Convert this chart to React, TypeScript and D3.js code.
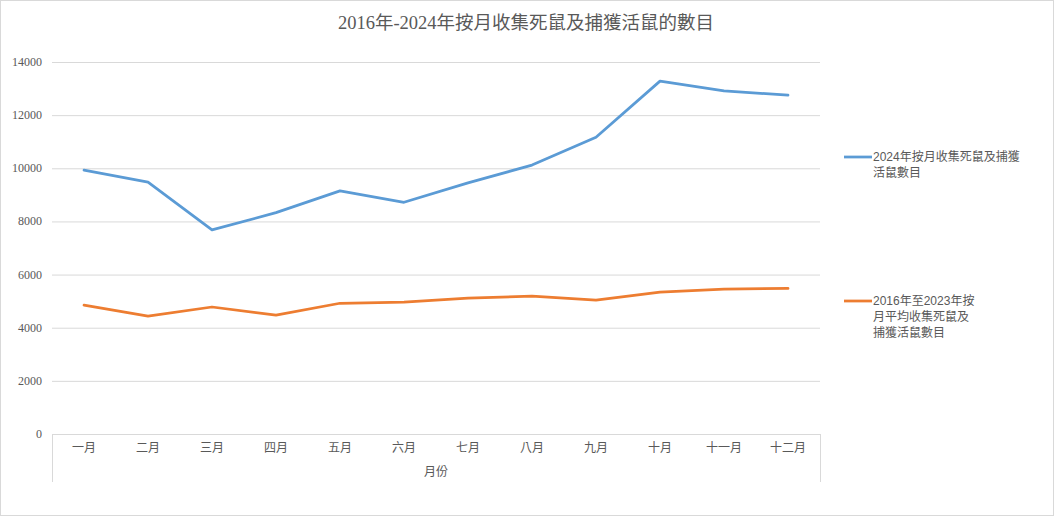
import React from "react";
import * as d3 from "d3";

const months = ["一月", "二月", "三月", "四月", "五月", "六月", "七月", "八月", "九月", "十月", "十一月", "十二月"];
const series2024 = [9930, 9480, 7680, 8330, 9150, 8720, 9450, 10120, 11170, 13280, 12910, 12750];
const seriesAvg = [4850, 4440, 4780, 4470, 4920, 4960, 5110, 5190, 5040, 5340, 5450, 5480];
const yTicks = [0, 2000, 4000, 6000, 8000, 10000, 12000, 14000];
const legend2024 = ["2024年按月收集死鼠及捕獲", "活鼠數目"];
const legendAvg = ["2016年至2023年按", "月平均收集死鼠及", "捕獲活鼠數目"];
const title = "2016年-2024年按月收集死鼠及捕獲活鼠的數目";
const xTitle = "月份";

const W = 1054, H = 516;
const left = 52, right = 820, top = 62, bottom = 434;
const font = "'Liberation Serif', 'Noto Sans CJK TC', serif";
const cjk = "'Liberation Sans', 'Noto Sans CJK TC', sans-serif";

export default function App() {
  const x = d3.scaleBand<string>().domain(months).range([left, right]);
  const y = d3.scaleLinear().domain([0, 14000]).range([bottom, top]);
  const line = d3.line<number>().x((_, i) => (x(months[i]) as number) + x.bandwidth() / 2).y((d) => y(d));
  return (
    <div style={{ position: "absolute", left: 0, top: 0 }}>
      <svg width={W} height={H} style={{ display: "block" }}>
        <rect x={0.5} y={0.5} width={W - 1} height={H - 1} fill="#fff" stroke="#d9d9d9" />
        <text x={526} y={29} textAnchor="middle" fontSize={18.5} fill="#595959" fontFamily={font}>{title}</text>
        {yTicks.map((t) => (
          <g key={t}>
            <line x1={left} x2={right} y1={y(t) + 0.5} y2={y(t) + 0.5} stroke="#d9d9d9" strokeWidth={1} />
            <text x={42} y={y(t) + 4} textAnchor="end" fontSize={12} fill="#595959" fontFamily={font}>{t}</text>
          </g>
        ))}
        <line x1={left + 0.5} x2={left + 0.5} y1={bottom} y2={482} stroke="#d9d9d9" />
        <line x1={right + 0.5} x2={right + 0.5} y1={bottom} y2={482} stroke="#d9d9d9" />
        {months.map((m) => (
          <text key={m} x={(x(m) as number) + x.bandwidth() / 2} y={452} textAnchor="middle" fontSize={12} fill="#595959" fontFamily={cjk}>{m}</text>
        ))}
        <text x={(left + right) / 2} y={476} textAnchor="middle" fontSize={12} fill="#595959" fontFamily={cjk}>{xTitle}</text>
        <path d={line(seriesAvg) as string} fill="none" stroke="#ed7d31" strokeWidth={2.75} strokeLinejoin="round" strokeLinecap="round" />
        <path d={line(series2024) as string} fill="none" stroke="#5b9bd5" strokeWidth={2.75} strokeLinejoin="round" strokeLinecap="round" />
        <line x1={844} x2={872} y1={157} y2={157} stroke="#5b9bd5" strokeWidth={2.75} />
        {legend2024.map((s, i) => (
          <text key={s} x={873} y={161 + i * 16} fontSize={12} fill="#595959" fontFamily={cjk}>{s}</text>
        ))}
        <line x1={844} x2={872} y1={301} y2={301} stroke="#ed7d31" strokeWidth={2.75} />
        {legendAvg.map((s, i) => (
          <text key={s} x={873} y={305 + i * 16} fontSize={12} fill="#595959" fontFamily={cjk}>{s}</text>
        ))}
      </svg>
    </div>
  );
}
